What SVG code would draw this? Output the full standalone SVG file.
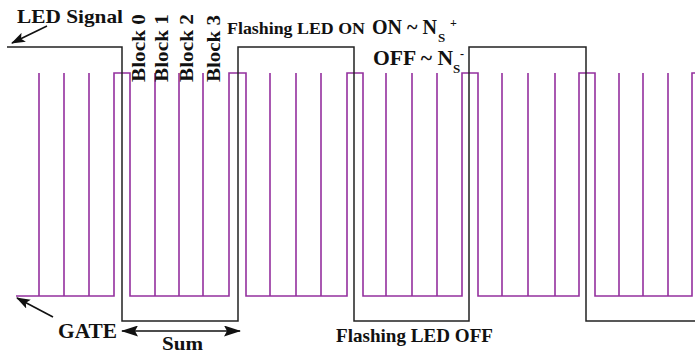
<svg xmlns="http://www.w3.org/2000/svg" width="695" height="353" viewBox="0 0 695 353">
<style>
.t{font-family:"Liberation Serif","Times New Roman",serif;font-weight:bold;fill:#111}
.gate{fill:none;stroke:#94309e;stroke-width:1.6}
.led{fill:none;stroke:#222;stroke-width:1.5}
.arr{fill:none;stroke:#111;stroke-width:1.6}
</style>
<defs>
<marker id="ah" viewBox="0 0 14 10" refX="13" refY="5" markerWidth="14" markerHeight="10" markerUnits="userSpaceOnUse" orient="auto-start-reverse">
<path d="M0,0 L14,5 L0,10 L3,5 Z" fill="#111"/>
</marker>
<marker id="ahs" viewBox="0 0 17 11" refX="16" refY="5.5" markerWidth="17" markerHeight="11" markerUnits="userSpaceOnUse" orient="auto-start-reverse">
<path d="M0,0 L17,5.5 L0,11 L3,5.5 Z" fill="#111"/>
</marker>
</defs>
<rect width="695" height="353" fill="#fff"/>
<g id="gate-signal">
<path class="gate" d="M16,296 H114 V73 H130 V296 H229 V73 H246 V296 H347 V73 H363 V296 H462 V73 H478 V296 H579 V73 H595 V296 H692 V73 H695"/>
<path class="gate" d="M39,296V73 M64,296V73 M89,296V73 M155,296V73 M179,296V73 M203,296V73 M270,296V73 M296,296V73 M321,296V73 M386,296V73 M412,296V73 M437,296V73 M502,296V73 M528,296V73 M555,296V73 M619,296V73 M643,296V73 M668,296V73"/>
</g>
<g id="led-signal">
<path class="led" d="M7,47 H122 V321 H238 V47 H354 V321 H469 V47 H586 V321 H695"/>
</g>
<g id="connectors">
<line class="arr" x1="47" y1="26" x2="12" y2="43" marker-end="url(#ah)"/>
<line class="arr" x1="53" y1="317" x2="17" y2="298" marker-end="url(#ah)"/>
<line class="arr" x1="122" y1="331" x2="240" y2="331" marker-start="url(#ahs)" marker-end="url(#ahs)"/>
</g>
<g id="labels">
<text class="t" x="17" y="23" font-size="19" textLength="106" lengthAdjust="spacingAndGlyphs">LED Signal</text>
<text class="t" transform="translate(145,82) rotate(-90)" font-size="18.5" textLength="68" lengthAdjust="spacingAndGlyphs">Block 0</text>
<text class="t" transform="translate(167.5,82) rotate(-90)" font-size="18.5" textLength="68" lengthAdjust="spacingAndGlyphs">Block 1</text>
<text class="t" transform="translate(193,82) rotate(-90)" font-size="18.5" textLength="68" lengthAdjust="spacingAndGlyphs">Block 2</text>
<text class="t" transform="translate(220,82) rotate(-90)" font-size="18.5" textLength="67" lengthAdjust="spacingAndGlyphs">Block 3</text>
<text class="t" x="227" y="33.5" font-size="17.7" textLength="138" lengthAdjust="spacingAndGlyphs">Flashing LED ON</text>
<text class="t" x="372" y="34.3" font-size="20" textLength="65" lengthAdjust="spacingAndGlyphs">ON ~ N</text>
<text class="t" x="438" y="42" font-size="13">S</text>
<text class="t" x="450" y="27" font-size="12">+</text>
<text class="t" x="373" y="65" font-size="20" textLength="80" lengthAdjust="spacingAndGlyphs">OFF ~ N</text>
<text class="t" x="453" y="73" font-size="13">S</text>
<text class="t" x="460" y="58" font-size="12">-</text>
<text class="t" x="58" y="337.5" font-size="21" textLength="59" lengthAdjust="spacingAndGlyphs">GATE</text>
<text class="t" x="162" y="350" font-size="19" textLength="41" lengthAdjust="spacingAndGlyphs">Sum</text>
<text class="t" x="336" y="341.7" font-size="19.5" textLength="157" lengthAdjust="spacingAndGlyphs">Flashing LED OFF</text>
</g>
</svg>
